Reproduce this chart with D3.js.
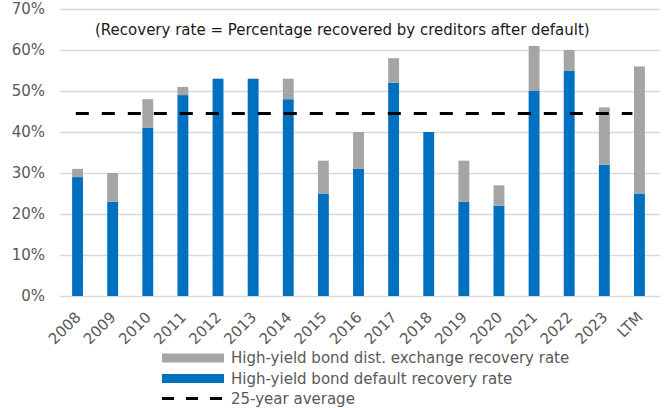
<!DOCTYPE html>
<html>
<head>
<meta charset="utf-8">
<script src="https://cdn.jsdelivr.net/npm/d3@7"></script>
<style>
  html, body { margin: 0; padding: 0; background: #fff; }
  svg { display: block; font-family: "DejaVu Sans", Verdana, sans-serif; }
</style>
</head>
<body>
<svg id="chart" width="665" height="408"></svg>
<script>
// Categories and series (percent)
const years = ["2008","2009","2010","2011","2012","2013","2014","2015","2016","2017","2018","2019","2020","2021","2022","2023","LTM"];
const defaultRecovery = [29, 23, 41, 49, 53, 53, 48, 25, 31, 52, 40, 23, 22, 50, 55, 32, 25];
const distExchangeRecovery = [2, 7, 7, 2, 0, 0, 5, 8, 9, 6, 0, 10, 5, 11, 5, 14, 31];
const longRunAverage = 44.5;
// The average line runs from the first category to just short of the last one (category index units)
const averageSpan = [-0.05, 15.8];
const yTicks = [0, 10, 20, 30, 40, 50, 60, 70];
const seriesNames = ["High-yield bond dist. exchange recovery rate", "High-yield bond default recovery rate", "25-year average"];
const noteText = "(Recovery rate = Percentage recovered by creditors after default)";

const colors = { blue: "#0070C0", gray: "#A5A5A5", grid: "#D9D9D9", axisText: "#595959" };
const font = "'DejaVu Sans', Verdana, sans-serif";

const svg = d3.select("#chart");
const plot = { left: 60, right: 657, top: 9, bottom: 296 };

const x = d3.scaleBand().domain(years).range([plot.left, plot.right]).paddingInner(0.69).paddingOuter(0.345);
const y = d3.scaleLinear().domain([0, 70]).range([plot.bottom, plot.top]);
// Continuous index -> category centre, for the average line
const xIdx = d3.scaleLinear().domain([0, years.length - 1])
  .range([x(years[0]) + x.bandwidth() / 2, x(years[years.length - 1]) + x.bandwidth() / 2]);

// Gridlines and y labels
const yAxis = d3.axisLeft(y).tickValues(yTicks).tickFormat(d => d + "%").tickSize(-(660 - plot.left)).tickPadding(14);
const gy = svg.append("g").attr("transform", `translate(${plot.left},0)`).call(yAxis);
gy.select(".domain").remove();
gy.selectAll(".tick line").attr("stroke", colors.grid).attr("stroke-width", 1.3);
gy.selectAll(".tick text").attr("fill", colors.axisText).attr("font-size", 15).attr("x", -15)
  .style("font-family", font);

// Stacked bars: default recovery at the base, distressed-exchange recovery on top
const stacked = years.map((yr, i) => ({ yr, base: defaultRecovery[i], extra: distExchangeRecovery[i] }));
svg.append("g").selectAll("rect").data(stacked).join("rect")
  .attr("x", d => x(d.yr)).attr("width", x.bandwidth())
  .attr("y", d => y(d.base)).attr("height", d => y(0) - y(d.base))
  .attr("fill", colors.blue);
svg.append("g").selectAll("rect").data(stacked.filter(d => d.extra > 0)).join("rect")
  .attr("x", d => x(d.yr)).attr("width", x.bandwidth())
  .attr("y", d => y(d.base + d.extra)).attr("height", d => y(d.base) - y(d.base + d.extra))
  .attr("fill", colors.gray);

// X axis labels, rotated
const xAxis = d3.axisBottom(x).tickSize(0).tickPadding(0);
const gx = svg.append("g").attr("transform", `translate(0,${plot.bottom})`).call(xAxis);
gx.select(".domain").remove();
gx.selectAll(".tick text")
  .attr("fill", colors.axisText).attr("font-size", 15)
  .style("font-family", font)
  .attr("text-anchor", "end").attr("dy", 0).attr("x", 0).attr("y", 0)
  .attr("transform", "translate(1,19) rotate(-45)")
  .attr("dominant-baseline", "middle");

// 25-year average
svg.append("line")
  .attr("x1", xIdx(averageSpan[0])).attr("x2", xIdx(averageSpan[1]))
  .attr("y1", y(longRunAverage)).attr("y2", y(longRunAverage))
  .attr("stroke", "#000").attr("stroke-width", 3).attr("stroke-dasharray", "13,13");

// Note
svg.append("text").attr("x", 95).attr("y", 35).attr("font-size", 15).attr("fill", "#1a1a1a")
  .style("font-family", font).text(noteText);

// Legend
const legend = svg.append("g").attr("transform", "translate(162,358)");
const rowH = 20.5;
[colors.gray, colors.blue].forEach((c, i) => {
  legend.append("rect").attr("x", 0).attr("y", i * rowH - 4.5).attr("width", 62).attr("height", 9).attr("fill", c);
});
legend.append("line").attr("x1", 0).attr("x2", 62).attr("y1", 2 * rowH - 0.5).attr("y2", 2 * rowH - 0.5)
  .attr("stroke", "#000").attr("stroke-width", 3).attr("stroke-dasharray", "12,12");
seriesNames.forEach((n, i) => {
  legend.append("text").attr("x", 69).attr("y", i * rowH).attr("dominant-baseline", "central")
    .attr("font-size", 15).attr("fill", colors.axisText)
    .style("font-family", font).text(n);
});
</script>
</body>
</html>
